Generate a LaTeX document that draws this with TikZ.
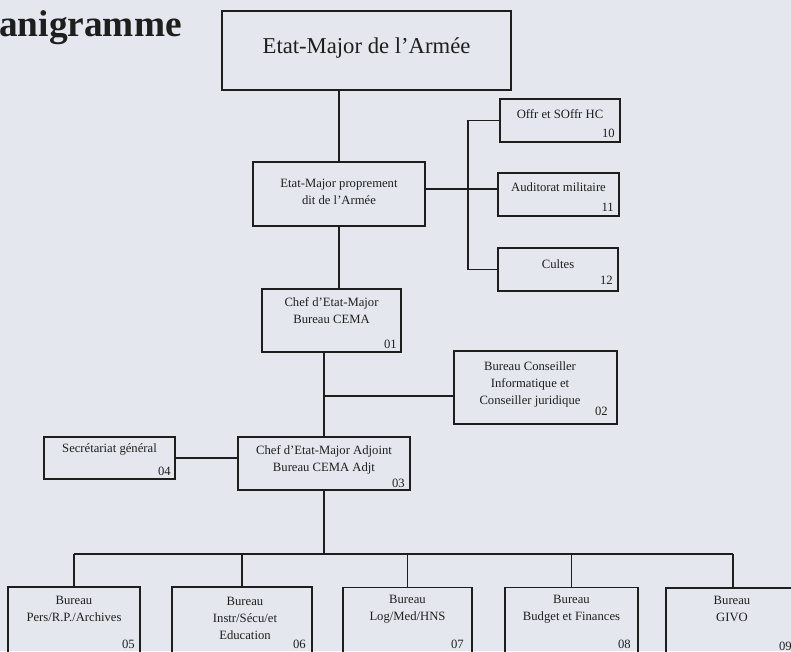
\documentclass[tikz,border=0pt]{standalone}
\usepackage{fontspec}
\setmainfont{Liberation Serif}
\usepackage{tikz}
\usetikzlibrary{positioning}
\definecolor{paper}{HTML}{E4E8EE}
\definecolor{ink}{HTML}{1E1E1E}

\tikzset{
  bureau/.style={draw=ink, line width=1.4pt, inner sep=0pt},
  txt/.style={text=ink, inner sep=0pt, align=center, font=\fontsize{9.5}{12.8}\selectfont},
  num/.style={text=ink, inner sep=0pt, anchor=east, font=\fontsize{9.5}{11}\selectfont},
  link/.style={draw=ink, line width=1.2pt}
}

\begin{document}
\begin{tikzpicture}[x=0.75pt,y=0.75pt,yscale=-1,xscale=1]
    \useasboundingbox (0,0) rectangle (791,651);
    \clip (0,0) rectangle (791,651);
    \fill [paper] (0,0) rectangle (791,651);

    % Title
    \node [anchor=base west, inner sep=0pt, text=ink, font=\bfseries\fontsize{28}{30}\selectfont] (title) at (-1,36) {anigramme};

    %Shape: Rectangle - top
    \node [bureau, minimum width=216.75pt, minimum height=59.25pt] (ema) at (366.5,50.5) {};
    \node [txt, font=\fontsize{17}{20}\selectfont] (tema) at (366.5,48) {Etat-Major de l'Armée};

    %Shape: Rectangle - EM proprement dit
    \node [bureau, minimum width=129pt, minimum height=48pt] (emp) at (339,194) {};
    \node [txt] (temp) at (339,192) {Etat-Major proprement\\dit de l'Armée};

    %Shape: Rectangle - 10, 11, 12
    \node [bureau, minimum width=90pt, minimum height=32.25pt] (offr) at (560,120.5) {};
    \node [txt] (toffr) at (560,114) {Offr et SOffr HC};
    \node [num] (n10) at (615,133) {10};
    \node [bureau, minimum width=90.75pt, minimum height=32.25pt] (audit) at (558.5,194.5) {};
    \node [txt] (taudit) at (558.5,187) {Auditorat militaire};
    \node [num] (n11) at (614,207) {11};
    \node [bureau, minimum width=90pt, minimum height=32.25pt] (cultes) at (558,269.5) {};
    \node [txt] (tcultes) at (558,264) {Cultes};
    \node [num] (n12) at (613,280) {12};

    %Shape: Rectangle - 01
    \node [bureau, minimum width=104.25pt, minimum height=47.25pt] (cema) at (331.5,320.5) {};
    \node [txt] (tcema) at (331.5,310.5) {Chef d'Etat-Major\\Bureau CEMA};
    \node [num] (n01) at (397,344) {01};

    %Shape: Rectangle - 02
    \node [bureau, minimum width=122.25pt, minimum height=54.75pt] (conseil) at (535.5,387.5) {};
    \node [txt] (tconseil) at (530,384.5) {Bureau Conseiller\\Informatique et\\Conseiller juridique};
    \node [num] (n02) at (608,411) {02};

    %Shape: Rectangle - 03
    \node [bureau, minimum width=129pt, minimum height=39.75pt] (adjt) at (324,463.5) {};
    \node [txt] (tadjt) at (324,459.5) {Chef d'Etat-Major Adjoint\\Bureau CEMA Adjt};
    \node [num] (n03) at (405,483) {03};

    %Shape: Rectangle - 04
    \node [bureau, minimum width=98.25pt, minimum height=31.5pt] (secr) at (109.5,458) {};
    \node [txt] (tsecr) at (109.5,449) {Secrétariat général};
    \node [num] (n04) at (171,471) {04};

    %Shape: Rectangle - bottom row
    \node [bureau, minimum width=99pt, minimum height=54.75pt] (b05) at (74,623.5) {};
    \node [txt] (t05) at (74,609) {Bureau\\Pers/R.P./Archives};
    \node [num] (n05) at (135,644) {05};
    \node [bureau, minimum width=105pt, minimum height=54.75pt] (b06) at (242,623.5) {};
    \node [txt] (t06) at (245,618) {Bureau\\Instr/Sécu/et\\Education};
    \node [num] (n06) at (306,644) {06};
    \node [bureau, minimum width=96.75pt, minimum height=54.75pt] (b07) at (407.5,624) {};
    \node [txt] (t07) at (407.5,609) {Bureau\\Log/Med/HNS};
    \node [num] (n07) at (464,644) {07};
    \node [bureau, minimum width=99.75pt, minimum height=54.75pt] (b08) at (571.5,624) {};
    \node [txt] (t08) at (571.5,609) {Bureau\\Budget et Finances};
    \node [num] (n08) at (631,644) {08};
    \node [bureau, minimum width=100.5pt, minimum height=54.75pt] (b09) at (733,624.5) {};
    \node [txt] (t09) at (732,609) {Bureau\\GIVO};
    \node [num] (n09) at (792,646) {09};

    % Connectors
    \coordinate (brk) at (468,189);
    \coordinate (jcons) at (324,396);
    \coordinate (bus) at (323,554);
    \draw [link] (emp.north) -- (emp.north |- ema.south);
    \draw [link] (emp.east |- brk) -- (audit.west |- brk);
    \draw [link] (offr.west) -| (brk) |- (cultes.west);
    \draw [link] (emp.south) -- (emp.south |- cema.north);
    \draw [link] (adjt.north) -- (adjt.north |- cema.south);
    \draw [link] (jcons) -- (jcons -| conseil.west);
    \draw [link] (secr.east) -- (secr.east -| adjt.west);
    \draw [link] (adjt.south) -- (adjt.south |- bus);
    \draw [link] (b05.north |- bus) -- (b09.north |- bus);
    \foreach \b in {b05,b06,b07,b08,b09}
        \draw [link] (\b.north) -- (\b.north |- bus);

\end{tikzpicture}
\end{document}
